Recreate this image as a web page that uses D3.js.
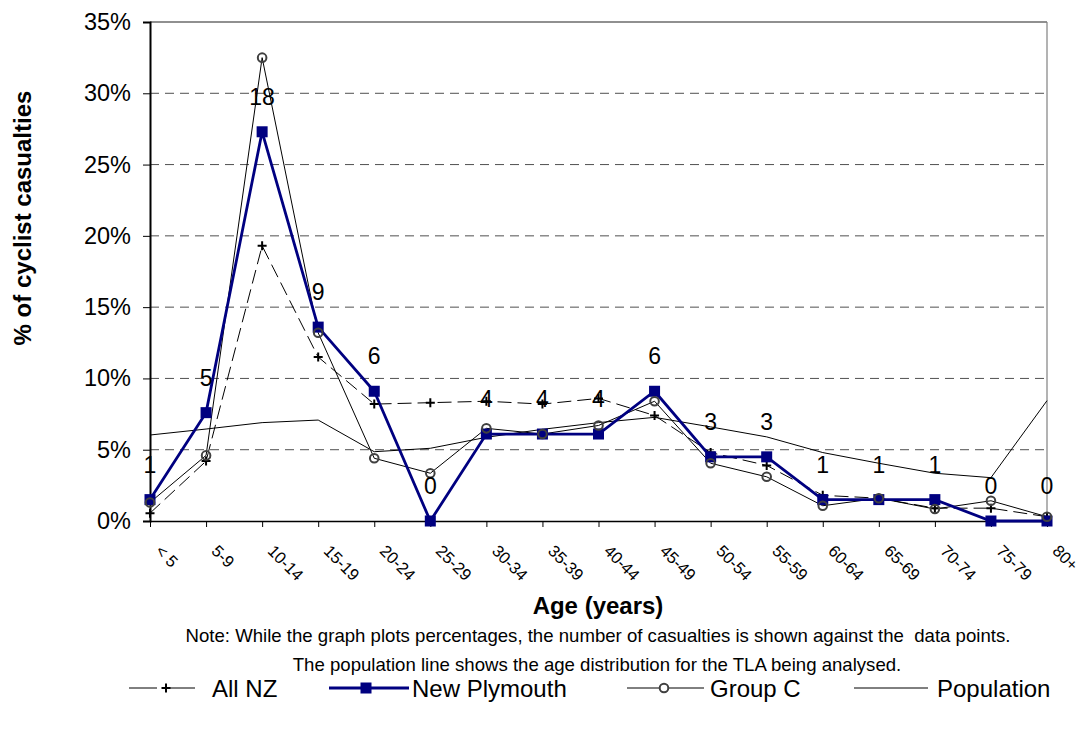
<!DOCTYPE html>
<html>
<head>
<meta charset="utf-8">
<script src="https://cdn.jsdelivr.net/npm/d3@7"></script>
<style>
  body { margin: 0; background: #fff; }
  svg { display: block; font-family: "Liberation Sans", Arial, sans-serif; }
</style>
</head>
<body>
<svg id="chart" width="1084" height="729"></svg>
<script>
const categories = ["< 5","5-9","10-14","15-19","20-24","25-29","30-34","35-39","40-44","45-49","50-54","55-59","60-64","65-69","70-74","75-79","80+"];
const allNZ      = [0.55,4.2,19.3,11.5,8.2,8.3,8.4,8.2,8.6,7.4,4.8,3.9,1.8,1.6,0.9,0.9,0.3];
const newPlymouth= [1.5,7.6,27.3,13.6,9.1,0,6.1,6.1,6.1,9.1,4.5,4.5,1.5,1.5,1.5,0,0];
const groupC     = [1.3,4.6,32.5,13.2,4.4,3.35,6.5,6.1,6.7,8.4,4.05,3.1,1.07,1.6,0.84,1.42,0.3];
const population = [6.03,6.45,6.9,7.08,4.86,5.1,5.87,6.43,6.9,7.27,6.6,5.9,4.8,4.05,3.35,3.04,8.44];
const counts     = [1,5,18,9,6,0,4,4,4,6,3,3,1,1,1,0,0];
const yTicks     = [0,5,10,15,20,25,30,35];

const FONT = '"Liberation Sans", Arial, sans-serif';
const svg = d3.select("#chart");
const L = 150, R = 1047, T = 22, B = 521;
const x = d3.scalePoint().domain(categories).range([L, R]);
const y = d3.scaleLinear().domain([0, 35]).range([B, T]);

// gridlines
svg.append("g").selectAll("line").data(yTicks.filter(d => d > 0 && d < 35)).join("line")
  .attr("x1", L).attr("x2", R).attr("y1", d => y(d)).attr("y2", d => y(d))
  .attr("stroke", "#505050").attr("stroke-width", 1).attr("stroke-dasharray", "9,6");

// plot border top/right
svg.append("line").attr("x1", L).attr("x2", R).attr("y1", y(35)).attr("y2", y(35))
  .attr("stroke", "#222").attr("stroke-width", 1.2);
svg.append("line").attr("x1", R).attr("x2", R).attr("y1", y(35)).attr("y2", y(0))
  .attr("stroke", "#808080").attr("stroke-width", 1.2);

// y axis
const yAxis = d3.axisLeft(y).tickValues(yTicks).tickSize(7).tickPadding(12).tickFormat(d => d + "%");
const gy = svg.append("g").attr("transform", `translate(${L},0)`).call(yAxis);
gy.select(".domain").attr("stroke", "#000").attr("stroke-width", 2);
gy.selectAll(".tick line").attr("stroke", "#000");
gy.selectAll("text").attr("font-size", 23.5).attr("fill", "#000").attr("font-family", FONT);

// x axis
const xAxis = d3.axisBottom(x).tickSize(6).tickSizeOuter(0);
const gx = svg.append("g").attr("transform", `translate(0,${B})`).call(xAxis);
gx.select(".domain").attr("stroke", "#000").attr("stroke-width", 1.5);
gx.selectAll(".tick line").attr("stroke", "#000");
gx.selectAll("text")
  .attr("font-size", 16.5).attr("fill", "#000").attr("font-family", FONT)
  .attr("text-anchor", "start").attr("dy", null).attr("y", null)
  .attr("transform", "translate(4,31) rotate(45)");

const pts = arr => arr.map((v, i) => [x(categories[i]), y(v)]);
const line = d3.line();

// population
svg.append("path").attr("d", line(pts(population))).attr("fill", "none")
  .attr("stroke", "#000").attr("stroke-width", 1);
// All NZ
svg.append("path").attr("d", line(pts(allNZ))).attr("fill", "none")
  .attr("stroke", "#000").attr("stroke-width", 1).attr("stroke-dasharray", "14,6");
// Group C
svg.append("path").attr("d", line(pts(groupC))).attr("fill", "none")
  .attr("stroke", "#000").attr("stroke-width", 1);
// New Plymouth
svg.append("path").attr("d", line(pts(newPlymouth))).attr("fill", "none")
  .attr("stroke", "#000080").attr("stroke-width", 2.8);

// markers
function plus(g, cx, cy, s) {
  g.append("path").attr("d", `M${cx - s},${cy}H${cx + s}M${cx},${cy - s}V${cy + s}`)
    .attr("stroke", "#000").attr("stroke-width", 2);
}
const gm = svg.append("g");
allNZ.forEach((v, i) => plus(gm, x(categories[i]), y(v), 4.5));
svg.append("g").selectAll("rect").data(newPlymouth).join("rect")
  .attr("x", (d, i) => x(categories[i]) - 5.5).attr("y", d => y(d) - 5.5)
  .attr("width", 11).attr("height", 11).attr("fill", "#000080");
svg.append("g").selectAll("circle").data(groupC).join("circle")
  .attr("cx", (d, i) => x(categories[i])).attr("cy", d => y(d)).attr("r", 4.3)
  .attr("fill", "none").attr("stroke", "#404040").attr("stroke-width", 2);

// data labels
svg.append("g").selectAll("text").data(counts).join("text")
  .attr("x", (d, i) => x(categories[i])).attr("y", (d, i) => y(newPlymouth[i]) - 27)
  .attr("text-anchor", "middle").attr("font-size", 23).attr("fill", "#000")
  .text(d => d);

// axis titles
svg.append("text").attr("transform", "translate(31,218) rotate(-90)")
  .attr("text-anchor", "middle").attr("font-size", 24).attr("font-weight", "bold")
  .text("% of cyclist casualties");
svg.append("text").attr("x", 598).attr("y", 614).attr("text-anchor", "middle")
  .attr("font-size", 24).attr("font-weight", "bold").text("Age (years)");

// notes
svg.append("text").attr("x", 598).attr("y", 642).attr("text-anchor", "middle").attr("font-size", 18.6)
  .style("white-space", "pre")
  .text("Note: While the graph plots percentages, the number of casualties is shown against the  data points.");
svg.append("text").attr("x", 597).attr("y", 671).attr("text-anchor", "middle").attr("font-size", 18.6)
  .text("The population line shows the age distribution for the TLA being analysed.");

// legend
const ly = 688;
const lg = svg.append("g");
// All NZ
lg.append("line").attr("x1", 129).attr("x2", 195).attr("y1", ly).attr("y2", ly)
  .attr("stroke", "#000").attr("stroke-width", 1).attr("stroke-dasharray", "28,10");
plus(lg, 166, ly, 4.5);
lg.append("text").attr("x", 212).attr("y", ly + 9).attr("font-size", 24).text("All NZ");
// New Plymouth
lg.append("line").attr("x1", 329).attr("x2", 409).attr("y1", ly).attr("y2", ly)
  .attr("stroke", "#000080").attr("stroke-width", 2.8);
lg.append("rect").attr("x", 366 - 5.5).attr("y", ly - 5.5).attr("width", 11).attr("height", 11).attr("fill", "#000080");
lg.append("text").attr("x", 412).attr("y", ly + 9).attr("font-size", 24).text("New Plymouth");
// Group C
lg.append("line").attr("x1", 627).attr("x2", 704).attr("y1", ly).attr("y2", ly)
  .attr("stroke", "#000").attr("stroke-width", 1);
lg.append("circle").attr("cx", 664).attr("cy", ly).attr("r", 4.3)
  .attr("fill", "#fff").attr("stroke", "#404040").attr("stroke-width", 2);
lg.append("text").attr("x", 710).attr("y", ly + 9).attr("font-size", 24).text("Group C");
// Population
lg.append("line").attr("x1", 854).attr("x2", 928).attr("y1", ly).attr("y2", ly)
  .attr("stroke", "#000").attr("stroke-width", 1);
lg.append("text").attr("x", 937).attr("y", ly + 9).attr("font-size", 24).text("Population");
</script>
</body>
</html>
